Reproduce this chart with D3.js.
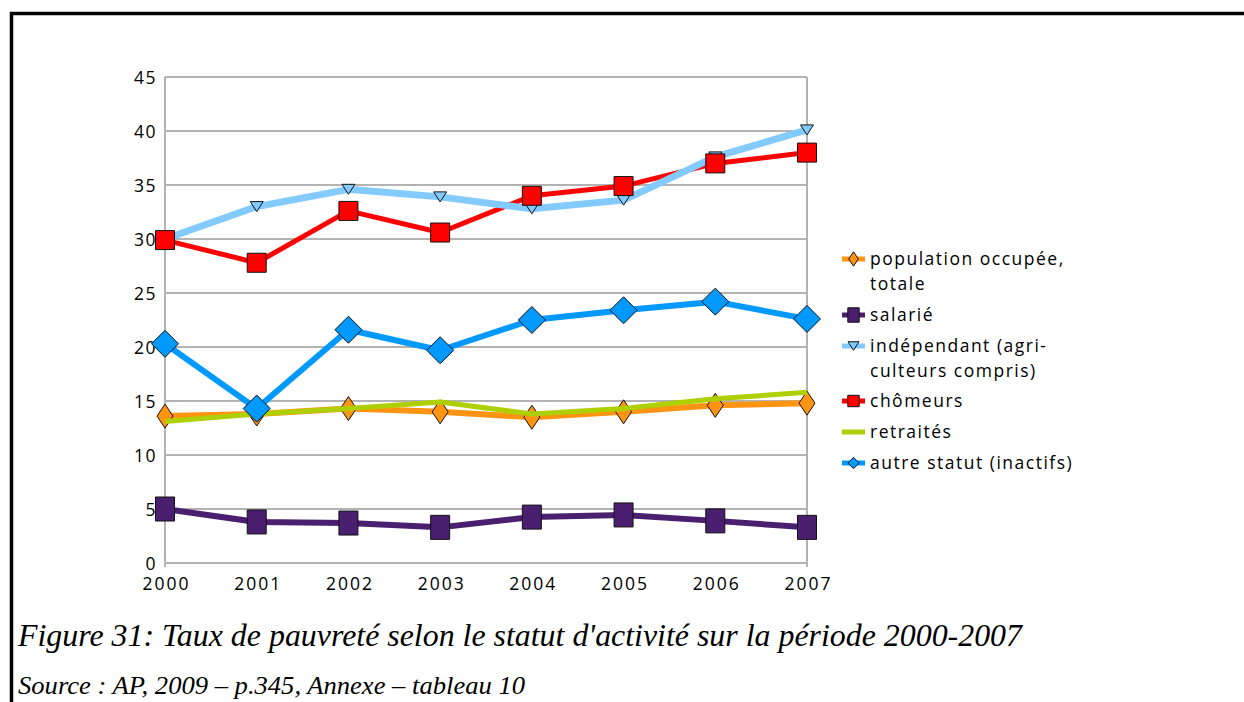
<!DOCTYPE html>
<html>
<head>
    <meta charset="utf-8">
    <script src="https://d3js.org/d3.v7.min.js"></script>
    <style>
        * { margin: 0; padding: 0; }
        body { width: 1244px; height: 702px; background: #fff; overflow: hidden; }
        .axis text { font-family: "Open Sans", sans-serif; fill: #000; }
        .caption { font-family: "Liberation Serif", "Times New Roman", Times, serif; font-style: italic; fill: #000; }
    </style>
</head>
<body>
<div id="chart"></div>
<script>
    let years = [2000, 2001, 2002, 2003, 2004, 2005, 2006, 2007];
    let yTicks = [0, 5, 10, 15, 20, 25, 30, 35, 40, 45];

    let occupee = [13.6, 13.8, 14.3, 14.0, 13.5, 14.0, 14.6, 14.8];
    let salarie = [5.0, 3.8, 3.7, 3.3, 4.25, 4.45, 3.9, 3.3];
    let independant = [30.0, 33.0, 34.6, 33.9, 32.8, 33.6, 37.6, 40.1];
    let chomeurs = [29.9, 27.8, 32.6, 30.6, 34.0, 34.9, 37.0, 38.0];
    let retraites = [13.1, 13.8, 14.3, 14.9, 13.8, 14.3, 15.2, 15.8];
    let autre = [20.3, 14.3, 21.6, 19.7, 22.5, 23.4, 24.2, 22.6];

    let series = [
        { name: ["population occupée,", "totale"], values: occupee, color: "#ff9412", width: 6, marker: "diamondS" },
        { name: ["salarié"], values: salarie, color: "#4b1f6f", width: 6, marker: "rectTall" },
        { name: ["indépendant (agri-", "culteurs compris)"], values: independant, color: "#83caff", width: 7, marker: "triangle" },
        { name: ["chômeurs"], values: chomeurs, color: "#ff0000", width: 5, marker: "square" },
        { name: ["retraités"], values: retraites, color: "#aecf00", width: 5, marker: null },
        { name: ["autre statut (inactifs)"], values: autre, color: "#0099ff", width: 6, marker: "diamond" }
    ];

    let W = 1244, H = 702;
    let svg = d3.select("#chart").append("svg").attr("width", W).attr("height", H);

    // frame (top + left only)
    svg.append("path")
        .attr("d", "M11.5,702 L11.5,13.5 L1244,13.5")
        .attr("fill", "none").attr("stroke", "#000").attr("stroke-width", 3.5);

    let x = d3.scaleLinear().domain([2000, 2007]).range([165, 807]);
    let y = d3.scaleLinear().domain([0, 45]).range([563, 77]);

    // gridlines
    svg.append("g").selectAll("line").data(yTicks).enter().append("line")
        .attr("x1", x(2000)).attr("x2", x(2007))
        .attr("y1", d => y(d)).attr("y2", d => y(d))
        .attr("stroke", "#b3b3b3").attr("stroke-width", 2);
    svg.append("g").selectAll("line").data([2000, 2007]).enter().append("line")
        .attr("x1", d => x(d)).attr("x2", d => x(d))
        .attr("y1", y(45)).attr("y2", y(0) + 4)
        .attr("stroke", "#b3b3b3").attr("stroke-width", 2);

    // axes (labels only)
    let gy = svg.append("g").attr("class", "axis").attr("transform", "translate(" + (x(2000) - 8) + ",0)")
        .call(d3.axisLeft(y).tickValues(yTicks).tickSize(0).tickPadding(0));
    gy.select(".domain").remove();
    gy.selectAll(".tick text").attr("dy", "0.36em")
        .attr("font-size", 17.5).attr("letter-spacing", 1.5);

    let gx = svg.append("g").attr("class", "axis").attr("transform", "translate(1," + (y(0) + 15) + ")")
        .call(d3.axisBottom(x).tickValues(years).tickFormat(d3.format("d")).tickSize(0).tickPadding(0));
    gx.select(".domain").remove();
    gx.selectAll(".tick text").attr("font-size", 17.5).attr("letter-spacing", 2);

    function markerPath(type, s) {
        if (type === "diamond") { let r = 13.5 * s; return `M0,${-r}L${r},0L0,${r}L${-r},0Z`; }
        if (type === "diamondS") { let a = 8 * s, b = 12 * s; return `M0,${-b}L${a},0L0,${b}L${-a},0Z`; }
        if (type === "square") { let r = 9.5 * s; return `M${-r},${-r}H${r}V${r}H${-r}Z`; }
        if (type === "rectTall") { let a = 9.5 * s, b = 12 * s; return `M${-a},${-b}H${a}V${b}H${-a}Z`; }
        if (type === "triangle") { let a = 6.5 * s, b = 5 * s; return `M${-a},${-b}H${a}L0,${b}Z`; }
        return null;
    }

    let line = d3.line().x((d, i) => x(years[i])).y(d => y(d));

    function drawLine(sr) {
        svg.append("path").datum(sr.values)
            .attr("d", line)
            .attr("fill", "none").attr("stroke", sr.color)
            .attr("stroke-width", sr.width).attr("stroke-linejoin", "round");
    }
    function drawMarkers(sr) {
        if (!sr.marker) return;
        svg.append("g").selectAll("path").data(sr.values).enter().append("path")
            .attr("d", markerPath(sr.marker, 1))
            .attr("transform", (d, i) => "translate(" + x(years[i]) + "," + y(d) + ")")
            .attr("fill", sr.color).attr("stroke", "#111").attr("stroke-width", 1);
    }

    let [sOcc, sSal, sInd, sCho, sRet, sAut] = series;
    drawLine(sOcc); drawMarkers(sOcc);
    drawLine(sSal); drawMarkers(sSal);
    drawLine(sCho);
    drawLine(sInd); drawMarkers(sInd);
    drawMarkers(sCho);
    drawLine(sRet);
    drawLine(sAut); drawMarkers(sAut);

    // legend
    let legendRows = [259, 315, 346, 401, 432, 463];
    let lg = svg.append("g");
    series.forEach((sr, i) => {
        let cy = legendRows[i];
        let g = lg.append("g").attr("transform", "translate(842," + cy + ")");
        g.append("line").attr("x1", 0).attr("x2", 23).attr("y1", 0).attr("y2", 0)
            .attr("stroke", sr.color).attr("stroke-width", 5);
        if (sr.marker) {
            g.append("path").attr("d", markerPath(sr.marker, sr.marker === "diamond" ? 0.42 : (sr.marker === "triangle" ? 0.85 : 0.6)))
                .attr("transform", "translate(11.5,0)")
                .attr("fill", sr.color).attr("stroke", "#111").attr("stroke-width", 1);
        }
        sr.name.forEach((t, k) => {
            g.append("text").attr("x", 28).attr("y", k * 25)
                .attr("dy", "0.36em")
                .attr("font-family", "'Open Sans', sans-serif").attr("font-size", 17.5)
                .attr("letter-spacing", 1.5)
                .text(t);
        });
    });

    // caption
    svg.append("text").attr("class", "caption").attr("x", 18).attr("y", 646)
        .attr("font-size", 31).attr("textLength", 1004).attr("lengthAdjust", "spacingAndGlyphs")
        .text("Figure 31: Taux de pauvreté selon le statut d'activité sur la période 2000-2007");
    svg.append("text").attr("class", "caption").attr("x", 18).attr("y", 694)
        .attr("font-size", 26).attr("textLength", 507).attr("lengthAdjust", "spacingAndGlyphs")
        .text("Source : AP, 2009 – p.345, Annexe – tableau 10");
</script>
</body>
</html>
